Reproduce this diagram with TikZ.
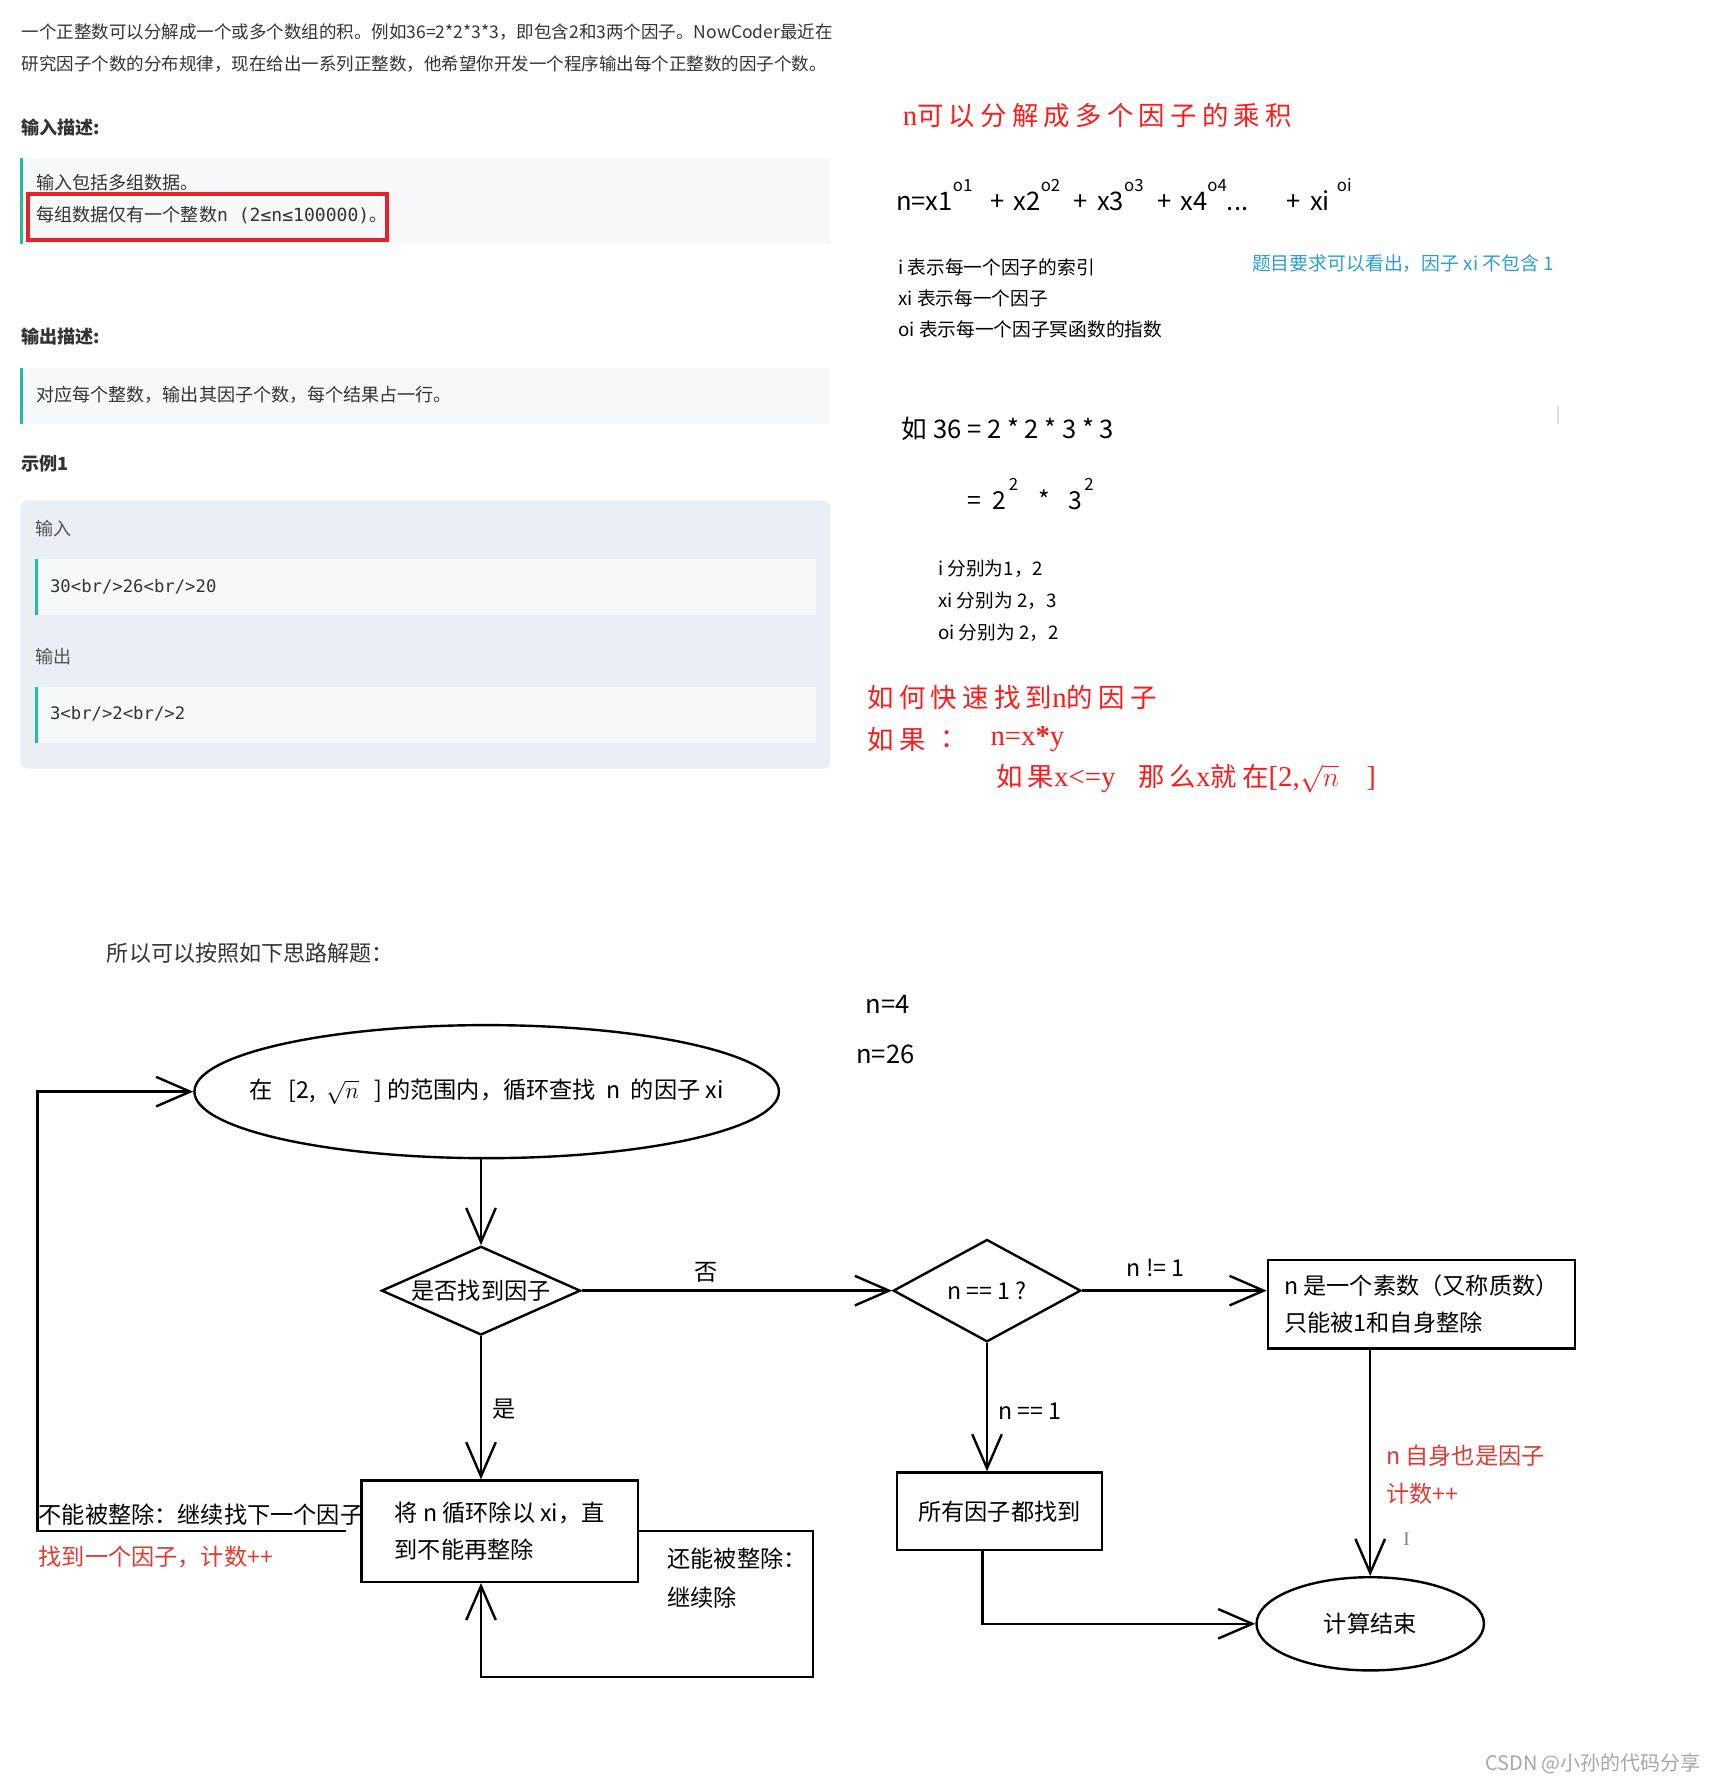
\documentclass[tikz,border=0pt]{standalone}
\usepackage{fontspec}
\setmainfont{Noto Sans CJK SC}
\newfontfamily\monofont{DejaVu Sans Mono}
\newfontfamily\serifrm{Liberation Serif}
\newfontfamily\spacedcjk[LetterSpace=20]{Noto Sans CJK SC}
\usetikzlibrary{arrows.meta,shapes.geometric}
\definecolor{txtgray}{HTML}{333333}
\definecolor{barteal}{HTML}{25BB9B}
\definecolor{codebg}{HTML}{F7F8FA}
\definecolor{samplebg}{HTML}{EAEEF5}
\definecolor{hlred}{HTML}{E8202A}
\definecolor{notered}{HTML}{FF1A1A}
\definecolor{flowred}{HTML}{DE3B32}
\definecolor{tipblue}{HTML}{2A9FD6}
\newcommand\pw[1]{\raisebox{.75em}{\fontsize{10.5}{10}\selectfont #1}}
\newcommand\rl[1]{{\serifrm\fontsize{18}{19}\selectfont #1}}

\begin{document}
\begin{tikzpicture}[x=0.25mm, y=-0.25mm, line width=1.5pt,
  >={Straight Barb[length=7.5mm,width=6.5mm]},
  every node/.style={inner sep=0pt},
  txt/.style={anchor=west, text=txtgray, font=\fontsize{11.3}{13}\selectfont},
  head/.style={txt, font=\fontsize{11.3}{13}\selectfont\bfseries},
  note/.style={anchor=west, font=\fontsize{11.7}{14}\selectfont},
  handred/.style={anchor=west, text=notered, font=\spacedcjk\fontsize{16.5}{19}\selectfont},
  flow/.style={font=\fontsize{14.5}{17}\selectfont},
  lbl/.style={flow, anchor=west},
  redlbl/.style={lbl, text=flowred},
  box/.style={draw, rectangle, flow},
  twoline/.style={box, align=left, font=\fontsize{14.5}{23.5}\selectfont},
  dia/.style={draw, diamond, flow},
  oval/.style={draw, ellipse, flow}]
  \useasboundingbox (0,0) rectangle (1504,1568);

  % problem text
  \node[txt, font=\fontsize{10.95}{13}\selectfont] (intro1) at (18,28) {一个正整数可以分解成一个或多个数组的积。例如36=2*2*3*3，即包含2和3两个因子。NowCoder最近在};
  \node[txt, font=\fontsize{10.95}{13}\selectfont] (intro2) at (18,56) {研究因子个数的分布规律，现在给出一系列正整数，他希望你开发一个程序输出每个正整数的因子个数。};
  \node[head] (inhead) at (18,112) {输入描述:};
  \fill[codebg] (18,139) rectangle (730,215);
  \fill[barteal] (18,139) rectangle (20.5,215);
  \node[txt] (indesc1) at (31,161) {输入包括多组数据。};
  \node[txt] (indesc2) at (31,189) {每组数据仅有一个整数{\monofont n (2≤n≤100000)}。};
  \draw[hlred, line width=2.5pt] (25,171) rectangle (340,211);
  \node[head] (outhead) at (18,296) {输出描述:};
  \fill[codebg] (18,324) rectangle (730,373);
  \fill[barteal] (18,324) rectangle (20.5,373);
  \node[txt] (outdesc) at (31,347) {对应每个整数，输出其因子个数，每个结果占一行。};
  \node[head] (samplehead) at (18,408) {示例1};
  \fill[samplebg, rounded corners=1.5mm] (18,440) rectangle (730,676);
  \foreach \y in {492,604} {
    \fill[codebg] (31,\y) rectangle (718,\y+49);
    \fill[barteal] (31,\y) rectangle (33.5,\y+49);
  }
  \node[txt, text=txtgray!85] (inlabel) at (30,465) {输入};
  \node[txt, text=txtgray!85] (outlabel) at (30,577) {输出};
  \node[txt, font=\monofont\fontsize{10.8}{13}\selectfont] (incode) at (43,516) {30<br/>26<br/>20};
  \node[txt, font=\monofont\fontsize{10.8}{13}\selectfont] (outcode) at (43,628) {3<br/>2<br/>2};

  % notes on the right
  \node[handred] (redtitle) at (793,102) {\rl{n}可以分解成多个因子的乘积};
  \node[anchor=base west, font=\fontsize{16}{18}\selectfont] (powsum) at (787,185)
    {n=x1\pw{o1}\hspace{4mm}+\hspace{2mm}x2\pw{o2}\hspace{3mm}+\hspace{2mm}x3\pw{o3}\hspace{3mm}+\hspace{2mm}x4\pw{o4}...\hspace{8.5mm}+\hspace{2mm}xi\hspace{1.5mm}\pw{oi}};
  \node[note] (idx) at (789,235) {i 表示每一个因子的索引};
  \node[note] (fac) at (789,262) {xi 表示每一个因子};
  \node[note] (expo) at (789,290) {oi 表示每一个因子冥函数的指数};
  \node[anchor=west, text=tipblue, font=\fontsize{11.8}{13}\selectfont] (tip) at (1100,232) {题目要求可以看出，因子 xi 不包含 1};
  \draw[gray!25, line width=1pt] (1370,357) -- (1370,373);
  \node[anchor=west, font=\fontsize{16}{17}\selectfont] (ex1) at (792,377) {如 36 = 2 * 2 * 3 * 3};
  \node[anchor=base west, font=\fontsize{15.5}{16}\selectfont] (ex2) at (850,448) {=\hspace{2.5mm}2\hspace{0.5mm}\pw{2}\hspace{4.5mm}*\hspace{4mm}3\hspace{0.5mm}\pw{2}};
  \node[note] (exi) at (824,500) {i 分别为1，2};
  \node[note] (exx) at (824,528) {xi 分别为 2，3};
  \node[note] (exo) at (824,556) {oi 分别为 2，2};
  \node[handred] (howto) at (762,613) {如何快速找到\rl{n}的因子};
  \node[handred] (ifa) at (762,650) {如果};
  \node[handred] (colon) at (826,650) {：};
  \node[handred] (nxy) at (870,650) {\rl{n=x{\bfseries *}y}};
  \node[handred] (range) at (875,685) {如果\rl{x<=y}\hspace{5mm}那么\rl{x}就在\rl{[2,}$\sqrt{n}$\hspace{6mm}\rl{]}};

  % flow chart
  \node[anchor=west, text=txtgray, font=\fontsize{13.8}{16}\selectfont] (hint) at (93,838) {所以可以按照如下思路解题：};
  \node[lbl, font=\fontsize{16}{19}\selectfont] (nfour) at (760,883) {n=4};
  \node[lbl, font=\fontsize{16}{19}\selectfont] (nsix) at (752,927) {n=26};

  \node[oval, minimum width=128.5mm, minimum height=29.25mm] (scan) at (428,960)
    {\makebox[0pt]{在\ \ \ [2,\ \ $\sqrt{n}$\ \ \ ] 的范围内，循环查找\ \ n\ \ 的因子 xi}};
  \node[dia, aspect=2.24, minimum width=43.75mm, minimum height=19.5mm] (find) at (423,1135) {是否找到因子};
  \node[dia, aspect=1.83, minimum width=41.25mm, minimum height=22.5mm] (ntest) at (868,1135) {n == 1 ?};
  \node[twoline, minimum width=67.5mm, minimum height=19.5mm] (prime) at (1250,1147)
    {n 是一个素数（又称质数）\\只能被1和自身整除};
  \node[box, minimum width=45mm, minimum height=17mm] (found) at (879,1329) {所有因子都找到};
  \node[twoline, minimum width=60.75mm, minimum height=22.25mm] (divide) at (439.5,1346.5)
    {将 n 循环除以 xi，直\\到不能再整除};
  \node[oval, minimum width=50mm, minimum height=20.5mm] (stop) at (1205,1428) {计算结束};

  \coordinate (rloop) at (715,1475);
  \coordinate (lbend) at (33,1348);

  \draw[->] (scan.south -| find.north) -- (find.north);
  \draw[->] (find.east) -- (ntest.west);
  \draw[->] (ntest.east) -- (ntest.east -| prime.west);
  \draw[->] (prime.south -| stop.north) -- (stop.north);
  \draw[->] (ntest.south) -- (ntest.south |- found.north);
  \draw[->] ([xshift=-3.75mm]found.south) |- (stop.west);
  \draw[->] (find.south) -- (find.south |- divide.north);
  \draw[->] (divide.east) -| (rloop) -| (divide.south -| find.south);
  \draw[->, shorten <=3.25mm] (divide.west) -- (divide.west -| lbend) |- (scan.west);

  \node[lbl] (nolbl) at (610,1119) {否};
  \node[lbl] (neqlbl) at (990,1115) {n != 1};
  \node[lbl] (eqlbl) at (877,1241) {n == 1};
  \node[lbl] (yeslbl) at (432,1239) {是};
  \node[redlbl] (selflbl) at (1218,1280) {n 自身也是因子};
  \node[redlbl] (cntone) at (1218,1314) {计数++};
  \node[lbl] (againlbl) at (586,1371) {还能被整除：};
  \node[lbl] (againlbl2) at (586,1405) {继续除};
  \node[lbl] (nextlbl) at (33,1332) {不能被整除：继续找下一个因子};
  \node[redlbl] (cnttwo) at (33,1369) {找到一个因子，计数++};
  \node[anchor=west, text=gray, font=\serifrm\fontsize{12}{14}\selectfont] (cursor) at (1233,1354) {I};
  \node[anchor=west, text=gray!70, font=\fontsize{12.5}{15}\selectfont] (mark) at (1305,1551) {CSDN @小孙的代码分享};
\end{tikzpicture}
\end{document}
